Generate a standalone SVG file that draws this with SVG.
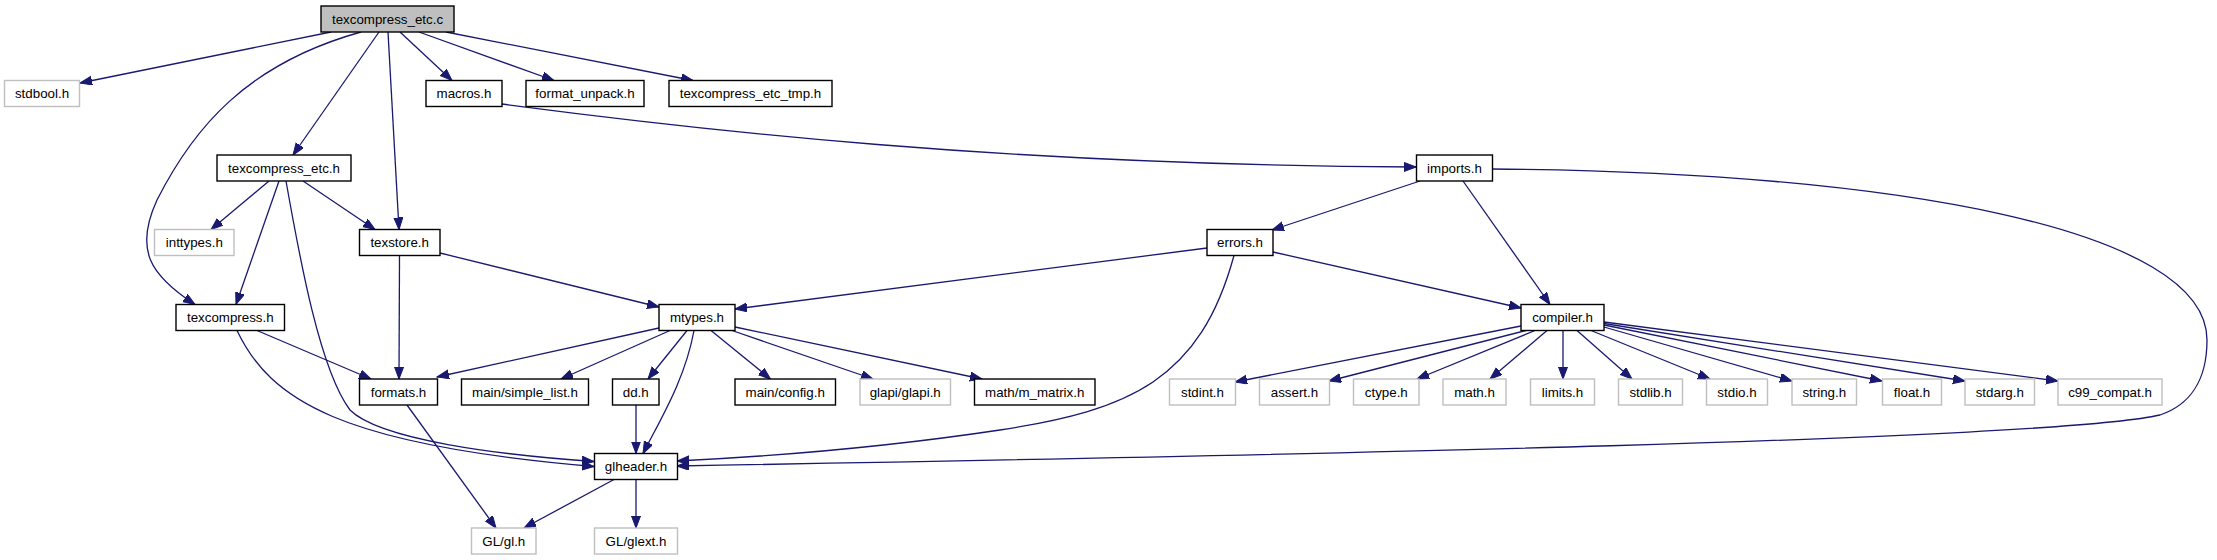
<svg xmlns="http://www.w3.org/2000/svg" width="2217" height="560" viewBox="0 0 2217 560">
<style>
.n rect{fill:#ffffff;stroke:#000000;stroke-width:1.4}
.n.g rect{stroke:#bfbfbf}
.n.root rect{fill:#bfbfbf}
.n text{font-family:"Liberation Sans",Arial,Helvetica,sans-serif;font-size:13.33px;text-anchor:middle;fill:#000000}
#edges path{fill:none;stroke:#191970;stroke-width:1.3;marker-end:url(#arr)}
</style>
<defs>
<marker id="arr" markerUnits="userSpaceOnUse" markerWidth="13" markerHeight="10" refX="12" refY="4.5" orient="auto">
<path d="M0,0 L12,4.5 L0,9 z" fill="#191970" stroke="#191970" stroke-width="1"/>
</marker>
</defs>
<rect x="0" y="0" width="2217" height="560" fill="#ffffff"/>
<g id="edges">
<path d="M331,32 L80,83"/>
<path d="M361,32 C246,64 193,129 157,200 C134,250 150,275 195,304.5"/>
<path d="M379,32 L293,155"/>
<path d="M388,32 L399,229.5"/>
<path d="M400,32 L452,80.5"/>
<path d="M419,32 L554,80.5"/>
<path d="M446,32 L693,80.5"/>
<path d="M502,104 C700,130 1000,165 1416,167"/>
<path d="M269,181 L211,229.5"/>
<path d="M279,181 L236,304.5"/>
<path d="M286,181 C300,260 320,370 350,410 C380,440 500,455 594,461.5"/>
<path d="M303,181 L375,229.5"/>
<path d="M257,330.5 L371,379"/>
<path d="M237,330.5 C270,400 340,445 594,466.5"/>
<path d="M399.5,255.5 L399,379"/>
<path d="M440,253 L659,307"/>
<path d="M1420,181 L1272,230"/>
<path d="M1463,181 L1550,304.5"/>
<path d="M1492,169 C1900,172 2207,230 2207,340 C2207,380 2190,405 2160,415 C2050,440 1300,455 677,466"/>
<path d="M1234,255.5 C1200,380 1130,410 1000,430 C900,445 800,455 677,461"/>
<path d="M1207,248 L735,309"/>
<path d="M1273,252 L1521,308"/>
<path d="M659,328 L437,377"/>
<path d="M670,330.5 L561,379"/>
<path d="M687,330.5 L648,379"/>
<path d="M694,330.5 C685,380 660,420 643,453.5"/>
<path d="M711,330.5 L770.5,379"/>
<path d="M732,330.5 L873,379"/>
<path d="M735,327 L982,379"/>
<path d="M636,405 L636,453.5"/>
<path d="M407,405 L496,528"/>
<path d="M614,479.5 L524,528"/>
<path d="M636,479.5 L636,528"/>
<path d="M1521,326 L1235,382"/>
<path d="M1526,330.5 L1329,381"/>
<path d="M1535,330.5 L1417,379"/>
<path d="M1547,330.5 L1490,379"/>
<path d="M1563,330.5 L1563,379"/>
<path d="M1577,330.5 L1632,379"/>
<path d="M1591,330.5 L1710,379"/>
<path d="M1604,327 L1792,381"/>
<path d="M1604,325 L1882,381"/>
<path d="M1604,323.5 L1965,381"/>
<path d="M1604,322 L2058,381"/>
</g>
<g id="n_texcompress_etc_c" class="n root"><rect x="321" y="6" width="133" height="26"/><text x="387.5" y="23.5">texcompress_etc.c</text></g>
<g id="n_stdbool" class="n g"><rect x="4.5" y="80.5" width="75" height="26"/><text x="42" y="98">stdbool.h</text></g>
<g id="n_macros" class="n"><rect x="426" y="80.5" width="76" height="26"/><text x="464" y="98">macros.h</text></g>
<g id="n_format_unpack" class="n"><rect x="526" y="80.5" width="118" height="26"/><text x="585" y="98">format_unpack.h</text></g>
<g id="n_texcompress_etc_tmp" class="n"><rect x="669" y="80.5" width="163" height="26"/><text x="750.5" y="98">texcompress_etc_tmp.h</text></g>
<g id="n_texcompress_etc_h" class="n"><rect x="217" y="155" width="134" height="26"/><text x="284" y="172.5">texcompress_etc.h</text></g>
<g id="n_imports" class="n"><rect x="1416.5" y="155" width="76" height="26"/><text x="1454.5" y="172.5">imports.h</text></g>
<g id="n_inttypes" class="n g"><rect x="154.5" y="229.5" width="79.5" height="26"/><text x="194.3" y="247">inttypes.h</text></g>
<g id="n_texstore" class="n"><rect x="359.5" y="229.5" width="80.5" height="26"/><text x="399.7" y="247">texstore.h</text></g>
<g id="n_errors" class="n"><rect x="1207" y="229.5" width="66" height="26"/><text x="1240" y="247">errors.h</text></g>
<g id="n_texcompress_h" class="n"><rect x="176" y="304.5" width="108.5" height="26"/><text x="230.3" y="322">texcompress.h</text></g>
<g id="n_mtypes" class="n"><rect x="659" y="304.5" width="76" height="26"/><text x="697" y="322">mtypes.h</text></g>
<g id="n_compiler" class="n"><rect x="1521" y="304.5" width="83" height="26"/><text x="1562.5" y="322">compiler.h</text></g>
<g id="n_formats" class="n"><rect x="359.5" y="379" width="78" height="26"/><text x="398.5" y="396.5">formats.h</text></g>
<g id="n_simple_list" class="n"><rect x="461.5" y="379" width="127" height="26"/><text x="525" y="396.5">main/simple_list.h</text></g>
<g id="n_dd" class="n"><rect x="612.5" y="379" width="46.5" height="26"/><text x="635.7" y="396.5">dd.h</text></g>
<g id="n_config" class="n"><rect x="735" y="379" width="100.5" height="26"/><text x="785.2" y="396.5">main/config.h</text></g>
<g id="n_glapi" class="n g"><rect x="860" y="379" width="90.5" height="26"/><text x="905.2" y="396.5">glapi/glapi.h</text></g>
<g id="n_m_matrix" class="n"><rect x="974.5" y="379" width="120.5" height="26"/><text x="1034.7" y="396.5">math/m_matrix.h</text></g>
<g id="n_stdint" class="n g"><rect x="1169.5" y="379" width="66" height="26"/><text x="1202.5" y="396.5">stdint.h</text></g>
<g id="n_assert" class="n g"><rect x="1259.5" y="379" width="70" height="26"/><text x="1294.5" y="396.5">assert.h</text></g>
<g id="n_ctype" class="n g"><rect x="1353.5" y="379" width="65.5" height="26"/><text x="1386.3" y="396.5">ctype.h</text></g>
<g id="n_math" class="n g"><rect x="1443" y="379" width="63" height="26"/><text x="1474.5" y="396.5">math.h</text></g>
<g id="n_limits" class="n g"><rect x="1530.5" y="379" width="64" height="26"/><text x="1562.5" y="396.5">limits.h</text></g>
<g id="n_stdlib" class="n g"><rect x="1618.5" y="379" width="64" height="26"/><text x="1650.5" y="396.5">stdlib.h</text></g>
<g id="n_stdio" class="n g"><rect x="1706.5" y="379" width="61" height="26"/><text x="1737" y="396.5">stdio.h</text></g>
<g id="n_string" class="n g"><rect x="1792" y="379" width="64.5" height="26"/><text x="1824.3" y="396.5">string.h</text></g>
<g id="n_float" class="n g"><rect x="1882.5" y="379" width="59" height="26"/><text x="1912" y="396.5">float.h</text></g>
<g id="n_stdarg" class="n g"><rect x="1965" y="379" width="69.5" height="26"/><text x="1999.8" y="396.5">stdarg.h</text></g>
<g id="n_c99_compat" class="n g"><rect x="2058" y="379" width="104" height="26"/><text x="2110" y="396.5">c99_compat.h</text></g>
<g id="n_glheader" class="n"><rect x="594.5" y="453.5" width="83" height="26"/><text x="636" y="471">glheader.h</text></g>
<g id="n_gl" class="n g"><rect x="471.5" y="528" width="64.5" height="26"/><text x="503.8" y="545.5">GL/gl.h</text></g>
<g id="n_glext" class="n g"><rect x="594.5" y="528" width="83" height="26"/><text x="636" y="545.5">GL/glext.h</text></g>
</svg>
